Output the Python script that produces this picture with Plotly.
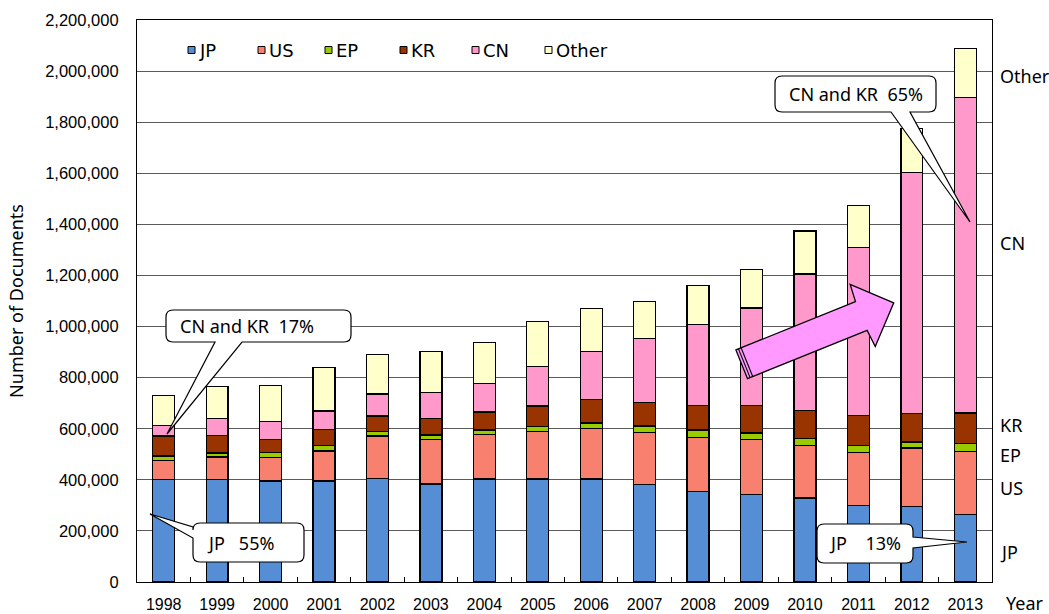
import math
import plotly.graph_objects as go

# ---------------- data (documents) ----------------
years = list(range(1998, 2014))
year_labels = [str(y) for y in years]
series_names = ["JP", "US", "EP", "KR", "CN", "Other"]
jp = [400000, 402000, 395000, 395000, 406000, 384000, 403000, 403000, 403000, 383000, 353000, 343000, 329000, 300000, 295000, 265000]
us = [76000, 87000, 92000, 118000, 165000, 174000, 174000, 187000, 198000, 203000, 214000, 214000, 206000, 207000, 229000, 246000]
ep = [17000, 16000, 19000, 20000, 19000, 18000, 18000, 20000, 21000, 25000, 28000, 26000, 27000, 28000, 24000, 30000]
kr = [78000, 68000, 53000, 65000, 60000, 64000, 70000, 79000, 93000, 91000, 97000, 108000, 110000, 116000, 111000, 121000]
cn = [42000, 68000, 70000, 71000, 86000, 103000, 112000, 154000, 188000, 252000, 315000, 382000, 534000, 659000, 945000, 1235000]
other = [116000, 123000, 141000, 172000, 155000, 159000, 160000, 177000, 167000, 143000, 155000, 149000, 168000, 165000, 170000, 192000]
series_values = [jp, us, ep, kr, cn, other]
colors = ["#558ED5", "#F8806F", "#99CC00", "#993300", "#FF99CC", "#FFFFCC"]

y_max = 2200000
y_step = 200000

# ---------------- geometry helpers (pixel -> axis / paper) ----------------
W, H = 1049, 614
L, R, T, B = 137, 992, 20, 582
x_lo, x_hi = years[0] - 0.5, years[-1] + 0.5


def xd(px):
    return x_lo + (px - L) * (x_hi - x_lo) / (R - L)


def yd(py):
    return (B - py) * y_max / (B - T)


def xp(px):
    return (px - L) / (R - L)


def yp(py):
    return (B - py) / (B - T)


def pt(x, y):
    return f"{xd(x):.5f},{yd(y):.2f}"


fig = go.Figure()
for name, vals, col in zip(series_names, series_values, colors):
    fig.add_trace(go.Bar(
        x=years, y=vals, name=name, width=0.41,
        marker=dict(color=col, line=dict(color="black", width=1.3)),
        showlegend=False,
    ))

shapes = []
annotations = []


def label(px, py, text, font, anchor="center"):
    annotations.append(dict(xref="paper", yref="paper", x=xp(px), y=yp(py), text=text,
                            showarrow=False, xanchor=anchor, yanchor="middle", font=font))


# ---------------- manual legend ----------------
leg_sq_x = [188, 258, 325, 400, 472, 545]
leg_y = 50
leg_font = dict(family="DejaVu Sans", size=18, color="black")
for name, col, sx in zip(series_names, colors, leg_sq_x):
    shapes.append(dict(type="rect", xref="x", yref="y",
                       x0=xd(sx), x1=xd(sx + 7), y0=yd(leg_y - 3.5), y1=yd(leg_y + 3.5),
                       fillcolor=col, line=dict(color="black", width=1)))
    label(sx + 9, leg_y, name, leg_font, "left")


# ---------------- callouts ----------------
def callout(x0, y0, x1, y1, side, b0, b1, tip, r=7):
    tx, ty = tip
    p = [f"M{pt(x0 + r, y0)}", f"L{pt(x1 - r, y0)}", f"Q{pt(x1, y0)} {pt(x1, y0 + r)}"]
    if side == "right":
        p += [f"L{pt(x1, b0)}", f"L{pt(tx, ty)}", f"L{pt(x1, b1)}"]
    p += [f"L{pt(x1, y1 - r)}", f"Q{pt(x1, y1)} {pt(x1 - r, y1)}"]
    if side == "bottom":
        p += [f"L{pt(b1, y1)}", f"L{pt(tx, ty)}", f"L{pt(b0, y1)}"]
    p += [f"L{pt(x0 + r, y1)}", f"Q{pt(x0, y1)} {pt(x0, y1 - r)}"]
    if side == "left":
        p += [f"L{pt(x0, b1)}", f"L{pt(tx, ty)}", f"L{pt(x0, b0)}"]
    p += [f"L{pt(x0, y0 + r)}", f"Q{pt(x0, y0)} {pt(x0 + r, y0)}", "Z"]
    shapes.append(dict(type="path", xref="x", yref="y", path=" ".join(p),
                       fillcolor="white", line=dict(color="black", width=1.2)))


call_font = dict(family="Noto Sans", size=18, color="black")

callout(166, 310, 351, 342, "bottom", 215, 242, (167, 434))
label(247, 326, "CN and KR  17%", call_font)

callout(193, 523, 304, 562, "left", 527, 538, (150, 514))
label(240, 543, "JP   55%", call_font)

callout(775, 76, 936, 112, "bottom", 891, 910, (970, 222))
label(856, 94, "CN and KR  65%", call_font)

callout(817, 524, 913, 563, "right", 537, 548, (967, 542))
label(865, 543, "JP    13%", call_font)

# ---------------- striped block arrow ----------------
th = math.radians(22)
ux, uy = math.cos(th), -math.sin(th)
nx, ny = math.sin(th), math.cos(th)
tx0, ty0 = 741.7, 364.3


def ap(s, t):
    return (tx0 + s * ux + t * nx, ty0 + s * uy + t * ny)


sw, sl, hw, hl = 15.5, 129, 33.5, 164
poly = [ap(0, -sw), ap(sl, -sw), ap(sl + 1.5, -hw), ap(hl, 0), ap(sl + 1.5, hw), ap(sl, sw), ap(0, sw)]
path = "M" + " L".join(pt(x, y) for x, y in poly) + " Z"
shapes.append(dict(type="path", xref="x", yref="y", path=path,
                   fillcolor="#FF99FF", line=dict(color="black", width=1.3)))
for s in (2.8, 5.6):
    a, b = ap(s, -sw), ap(s, sw)
    shapes.append(dict(type="line", xref="x", yref="y", x0=xd(a[0]), y0=yd(a[1]),
                       x1=xd(b[0]), y1=yd(b[1]), line=dict(color="black", width=1.1)))

# ---------------- right-side labels and Year ----------------
side_font = dict(family="Noto Sans", size=18, color="black")
side_labels = ["Other", "CN", "KR", "EP", "US", "JP"]
side_label_y = [76, 243, 425, 455, 488, 552]
for txt, py in zip(side_labels, side_label_y):
    label(998, py, txt, side_font, "left")
label(1004, 603, "Year", side_font, "left")

fig.update_layout(
    width=W, height=H, autosize=False,
    margin=dict(l=L, r=W - R, t=T, b=H - B, pad=0),
    barmode="stack",
    plot_bgcolor="white", paper_bgcolor="white",
    shapes=shapes, annotations=annotations,
    showlegend=False,
)
fig.update_xaxes(
    range=[x_lo, x_hi], tickmode="array", tickvals=years, ticktext=year_labels,
    showgrid=False, zeroline=False, showline=True, linecolor="black", linewidth=1.2, mirror=True,
    ticks="", ticklabelstandoff=8, automargin=False,
    tickfont=dict(family="Liberation Sans, Arial", size=16, color="black"),
    minor=dict(tickvals=[y + 0.5 for y in years[:-1]], ticks="inside", ticklen=5,
               tickcolor="black", tickwidth=1, showgrid=False),
)
fig.update_yaxes(
    range=[0, y_max], dtick=y_step, tick0=0, tickformat=",",
    showgrid=True, gridcolor="#5a5a5a", gridwidth=1, zeroline=False,
    showline=True, linecolor="black", linewidth=1.2, mirror=True,
    ticks="", ticklabelstandoff=14, automargin=False,
    tickfont=dict(family="Liberation Sans, Arial", size=16.5, color="black"),
    title=dict(text="Number of Documents", standoff=16,
               font=dict(family="Noto Sans", size=18, color="black")),
)

fig.write_html("out.html", config={"displayModeBar": False},
               post_script="document.body.style.margin='0';document.body.style.padding='0';")
